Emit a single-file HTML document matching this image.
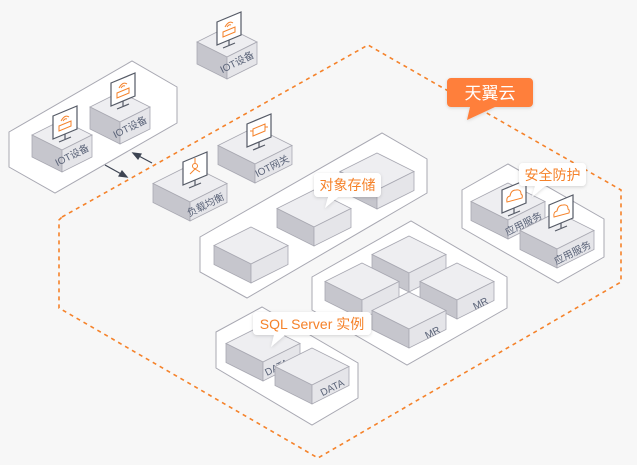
<!DOCTYPE html>
<html><head><meta charset="utf-8"><style>
html,body{margin:0;padding:0;background:#f7f7f7;}
svg{display:block;}
.ft{font-family:"Liberation Sans","Noto Sans CJK SC",sans-serif;font-size:10px;fill:#5a6378;}
.lb{font-family:"Liberation Sans","Noto Sans CJK SC",sans-serif;font-size:14px;fill:#f5822a;}
</style></head><body>
<svg width="637" height="465" viewBox="0 0 637 465" xmlns="http://www.w3.org/2000/svg">
<defs>
<filter id="sh" x="-20%" y="-20%" width="140%" height="160%"><feDropShadow dx="0" dy="1" stdDeviation="1.5" flood-color="#000" flood-opacity="0.15"/></filter>
<g id="bs">
<path d="M0,0 L30,15 L0,30 L-30,15Z" fill="#eeeef1" stroke="#a8a8b2" stroke-width="0.8"/>
<path d="M-30,15 L0,30 L0,52 L-30,37Z" fill="#c6c6cd" stroke="#a8a8b2" stroke-width="0.8"/>
<path d="M0,30 L30,15 L30,37 L0,52Z" fill="#e5e5e9" stroke="#a8a8b2" stroke-width="0.8"/>
</g>
<g id="bl">
<path d="M0,0 L37,18.5 L0,37 L-37,18.5Z" fill="#eeeef1" stroke="#a8a8b2" stroke-width="0.8"/>
<path d="M-37,18.5 L0,37 L0,56 L-37,37.5Z" fill="#c6c6cd" stroke="#a8a8b2" stroke-width="0.8"/>
<path d="M0,37 L37,18.5 L37,37.5 L0,56Z" fill="#e5e5e9" stroke="#a8a8b2" stroke-width="0.8"/>
</g>
<g id="mon">
<path d="M0,10 L24,0 L24,23 L0,33Z" fill="#fff" stroke="#555a66" stroke-width="1.2"/>
<line x1="12" y1="28" x2="12" y2="33" stroke="#555a66" stroke-width="1.2"/>
<line x1="6" y1="36" x2="18" y2="31" stroke="#555a66" stroke-width="1.2"/>
</g>
<g id="ico1" fill="none" stroke="#f5822a" stroke-width="1">
<path d="M6,20 L18,15 L18,20 L6,25Z"/><path d="M8,15 Q12,8 16,11"/><path d="M10,15 Q12,12 14,13"/>
</g>
<g id="cloud" fill="none" stroke="#f5822a" stroke-width="1">
<path d="M5,22 Q4,17 8,16 Q9,10 14,10 Q19,9 19,14 Q21,15 20,18 Z"/>
</g>
</defs>

<polygon points="62,217 368,45 621,190 621,282 318,458 59,308 59,220" fill="none" stroke="#f5822a" stroke-width="1.6" stroke-dasharray="4,4"/>

<polygon points="9,132 132,61 177,87 177,123 55,193 9,167" fill="#fff" stroke="#a8a8b2" stroke-width="1"/>
<use href="#bs" x="62" y="120"/>
<text class="ft" transform="translate(90,150) rotate(-26.57)" text-anchor="end">IOT设备</text>
<use href="#bs" x="120" y="92"/>
<text class="ft" transform="translate(148,122) rotate(-26.57)" text-anchor="end">IOT设备</text>
<use href="#mon" x="53" y="106"/><use href="#ico1" x="53" y="106"/>
<use href="#mon" x="111" y="73"/><use href="#ico1" x="111" y="73"/>

<g stroke="#3d4452" stroke-width="1.2" fill="#3d4452">
<line x1="105" y1="165" x2="123" y2="175"/><path d="M127,177 L119,176 L122,171Z"/>
<line x1="152" y1="163" x2="137" y2="155"/><path d="M133,153 L141,154 L138,159Z"/>
</g>

<use href="#bs" x="227" y="27"/>
<text class="ft" transform="translate(255,57) rotate(-26.57)" text-anchor="end">IOT设备</text>
<use href="#mon" x="217" y="12"/><use href="#ico1" x="217" y="12"/>

<use href="#bl" x="190" y="165"/>
<text class="ft" transform="translate(225,199) rotate(-26.57)" text-anchor="end">负载均衡</text>
<g transform="translate(183,152)"><use href="#mon"/><g fill="none" stroke="#f5822a" stroke-width="1"><circle cx="12" cy="14" r="2.5"/><line x1="12" y1="6" x2="12" y2="11"/><line x1="12" y1="17" x2="7" y2="22"/><line x1="12" y1="17" x2="17" y2="20"/></g></g>
<use href="#bl" x="255" y="127"/>
<text class="ft" transform="translate(290,161) rotate(-26.57)" text-anchor="end">IOT网关</text>
<g transform="translate(247,114)"><use href="#mon"/><path d="M6,15 L18,10 L18,17 L6,22Z M3,17 L6,17 M18,13 L21,13" fill="none" stroke="#f5822a" stroke-width="1"/></g>

<polygon points="200,237 382,133 427,159 427,193 247,298 200,272" fill="#fff" stroke="#a8a8b2" stroke-width="1"/>
<use href="#bl" x="377" y="153"/>
<use href="#bl" x="314" y="190"/>
<use href="#bl" x="251" y="227"/>

<polygon points="312,277 411,221 507,277 507,308 407,365 312,310" fill="#fff" stroke="#a8a8b2" stroke-width="1"/>
<use href="#bl" x="409" y="236"/>
<use href="#bl" x="362" y="263"/>
<use href="#bl" x="457" y="263"/>
<text class="ft" transform="translate(489,303) rotate(-26.57)" text-anchor="end">MR</text>
<use href="#bl" x="409" y="292"/>
<text class="ft" transform="translate(441,332) rotate(-26.57)" text-anchor="end">MR</text>

<polygon points="216,332 262,307 358,363 358,398 312,425 216,368" fill="#fff" stroke="#a8a8b2" stroke-width="1"/>
<use href="#bl" x="263" y="325"/>
<text class="ft" transform="translate(267,376) rotate(-26.57)">DATA</text>
<use href="#bl" x="312" y="348"/>
<text class="ft" transform="translate(345,385) rotate(-26.57)" text-anchor="end">DATA</text>

<polygon points="462,190 508,164 604,219 604,257 558,283 462,228" fill="#fff" stroke="#a8a8b2" stroke-width="1"/>
<use href="#bl" x="508" y="183"/>
<text class="ft" transform="translate(543,218) rotate(-26.57)" text-anchor="end">应用服务</text>
<g transform="translate(502,180)"><use href="#mon"/><use href="#cloud"/></g>
<use href="#bl" x="557" y="212"/>
<text class="ft" transform="translate(592,247) rotate(-26.57)" text-anchor="end">应用服务</text>
<g transform="translate(549,195)"><use href="#mon"/><use href="#cloud"/></g>

<g filter="url(#sh)">
<path d="M318,173 H377 a4,4 0 0 1 4,4 V193 a4,4 0 0 1 -4,4 H338 L325,208 L328,197 H318 a4,4 0 0 1 -4,-4 V177 a4,4 0 0 1 4,-4Z" fill="#fff"/>
<path d="M523,163 H582 a4,4 0 0 1 4,4 V182 a4,4 0 0 1 -4,4 H545 L532,197 L535,186 H523 a4,4 0 0 1 -4,-4 V167 a4,4 0 0 1 4,-4Z" fill="#fff"/>
<path d="M257,312 H367 a4,4 0 0 1 4,4 V331 a4,4 0 0 1 -4,4 H285 L271,347 L274,335 H257 a4,4 0 0 1 -4,-4 V316 a4,4 0 0 1 4,-4Z" fill="#fff"/>
</g>
<text class="lb" x="347.5" y="190" text-anchor="middle">对象存储</text>
<text class="lb" x="552.5" y="180" text-anchor="middle">安全防护</text>
<text class="lb" x="312" y="329" text-anchor="middle">SQL Server 实例</text>

<g filter="url(#sh)">
<path d="M451,78 H529 a4,4 0 0 1 4,4 V103 a4,4 0 0 1 -4,4 H495 L467,120 L470,107 H451 a4,4 0 0 1 -4,-4 V82 a4,4 0 0 1 4,-4Z" fill="#ff7f3a"/>
</g>
<text x="490" y="99" text-anchor="middle" style="font-family:'Liberation Sans','Noto Sans CJK SC',sans-serif;font-size:17px;fill:#fff;">天翼云</text>
</svg>
</body></html>
